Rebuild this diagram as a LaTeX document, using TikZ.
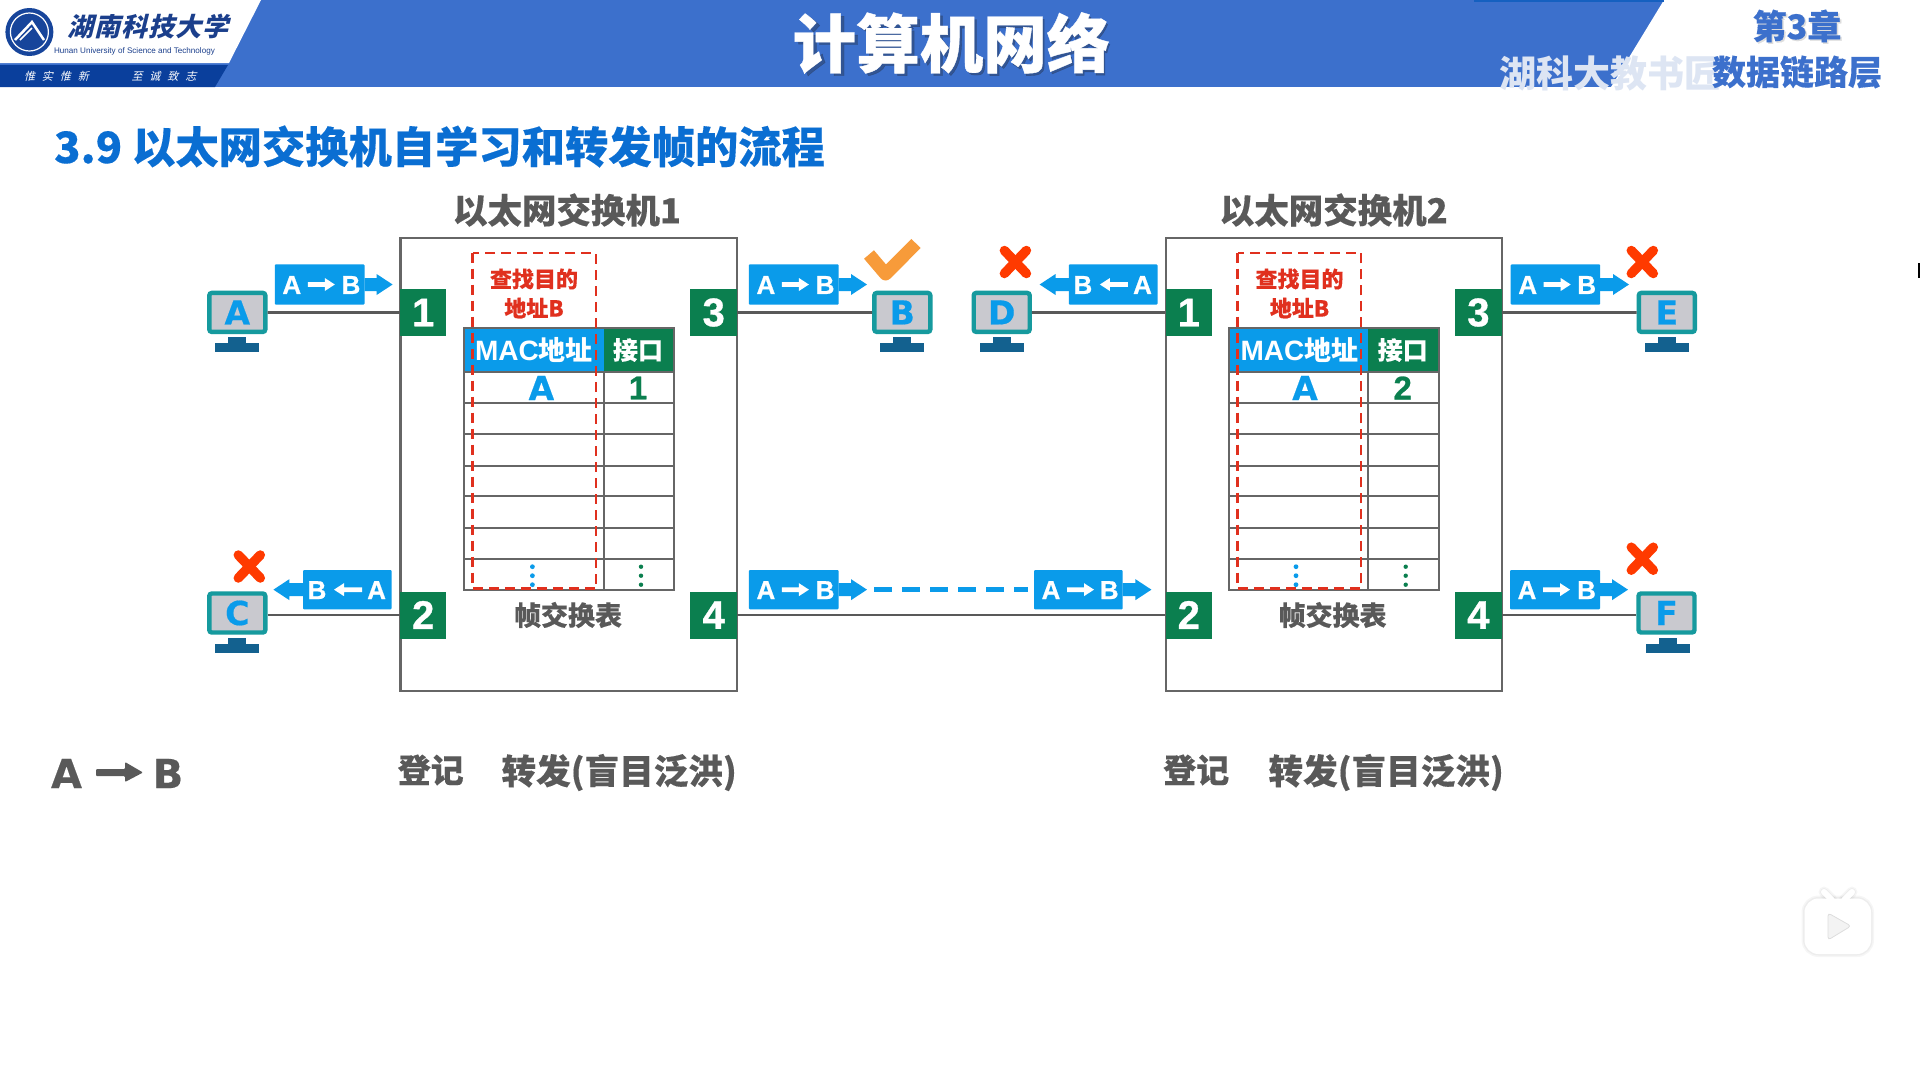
\documentclass[tikz,border=0pt]{standalone}
\usepackage{fontspec}
\setmainfont{Noto Sans CJK SC}
\newfontfamily\djb{DejaVu Sans}[BoldFeatures={FakeBold=0.5}]
\newfontfamily\libf{Liberation Sans}
\newfontfamily\libh{Liberation Sans}[BoldFeatures={FakeBold=0.8}]
\newfontfamily\heavy{Noto Sans CJK SC}[BoldFeatures={FakeBold=0.6}]
\newfontfamily\semih{Noto Sans CJK SC}[BoldFeatures={FakeBold=0.3}]
\newfontfamily\slantf{Noto Sans CJK SC}[FakeSlant=0.25]
\newcommand{\fsz}[1]{\fontsize{#1}{#1}\selectfont}
\definecolor{hblue}{HTML}{3C70CC}
\definecolor{fblue}{HTML}{0A9BEA}
\definecolor{pgreen}{HTML}{0B7F4F}
\definecolor{tgray}{HTML}{595959}
\definecolor{lgray}{HTML}{666666}
\definecolor{dred}{HTML}{E0301E}
\definecolor{xred}{HTML}{FF3A00}
\definecolor{okor}{HTML}{F79B3A}
\definecolor{teal1}{HTML}{169A9E}
\definecolor{scr}{HTML}{C9C9CF}
\definecolor{stand}{HTML}{13618F}
\definecolor{ttl}{HTML}{0A6ED2}
\definecolor{navyb}{HTML}{0A3F9C}
\definecolor{logob}{HTML}{17459B}
\definecolor{logot}{HTML}{1B3F8C}
\definecolor{wmk}{HTML}{DDE5F3}
\definecolor{shadowc}{HTML}{2A3F66}
\definecolor{topl}{HTML}{1560C0}
\definecolor{lightp}{HTML}{F3F3F3}
\definecolor{lightq}{HTML}{DDDDDD}
\tikzset{
  x=1pt,y=-1pt,
  portbox/.style={fill=pgreen,inner sep=0pt,minimum width=46.5pt,minimum height=47pt,text=white,font=\libh\bfseries\fsz{40}},
  monitorbox/.style={rectangle,rounded corners=2.5pt,fill=scr,draw=teal1,line width=4.4pt,inner sep=0pt,minimum width=56pt,minimum height=39pt,text=fblue,font=\djb\bfseries\fsz{33}},
  linkline/.style={draw=tgray,line width=2.8pt},
  swbox/.style={draw=lgray,line width=2.2pt},
  grayb/.style={text=tgray,font=\semih\bfseries\fsz{33},inner sep=0pt},
  flet/.style={text=white,font=\libh\bfseries\fsz{26},inner sep=0pt},
  tline/.style={draw=lgray,line width=2pt},
  dbox/.style={draw=dred,line width=2.4pt,dash pattern=on 10pt off 6pt},
  crossm/.style={draw=xred,line width=9.5pt,line cap=round},
}
% frame label pointing right: x0, x1, tip, ytop, ybot
\newcommand{\frameR}[5]{%
  \pgfmathsetmacro{\yc}{(#4+#5)/2}%
  \fill[fblue,rounded corners=1pt] (#1,#4) rectangle (#2,#5);
  \fill[fblue] (#2,\yc-6.5) -- (#3-16,\yc-6.5) -- (#3-16,\yc-10.5) -- (#3,\yc) -- (#3-16,\yc+10.5) -- (#3-16,\yc+6.5) -- (#2,\yc+6.5) -- cycle;
  \node[flet] at (#1+17,\yc+.5) {A};
  \node[flet] at (#2-13.5,\yc+.5) {B};
  \fill[white] (#1+33,\yc-2.4) -- (#1+50,\yc-2.4) -- (#1+50,\yc-6.5) -- (#1+60,\yc) -- (#1+50,\yc+6.5) -- (#1+50,\yc+2.4) -- (#1+33,\yc+2.4) -- cycle;
}
% frame label pointing left: x0, x1, tip, ytop, ybot
\newcommand{\frameL}[5]{%
  \pgfmathsetmacro{\yc}{(#4+#5)/2}%
  \fill[fblue,rounded corners=1pt] (#1,#4) rectangle (#2,#5);
  \fill[fblue] (#1,\yc-6.5) -- (#3+16,\yc-6.5) -- (#3+16,\yc-10.5) -- (#3,\yc) -- (#3+16,\yc+10.5) -- (#3+16,\yc+6.5) -- (#1,\yc+6.5) -- cycle;
  \node[flet] at (#1+14,\yc+.5) {B};
  \node[flet] at (#2-15,\yc+.5) {A};
  \fill[white] (#1+59,\yc-2.4) -- (#1+41,\yc-2.4) -- (#1+41,\yc-6.5) -- (#1+31,\yc) -- (#1+41,\yc+6.5) -- (#1+41,\yc+2.4) -- (#1+59,\yc+2.4) -- cycle;
}
\newcommand{\crossat}[2]{%
  \draw[crossm] (#1-11,#2-11.5) -- (#1+11,#2+11.5);
  \draw[crossm] (#1-11,#2+11.5) -- (#1+11,#2-11.5);
}
% monitor stand under monitor centre x, top y of neck
\newcommand{\standat}[2]{%
  \fill[stand] (#1-9,#2) rectangle (#1+9,#2+7);
  \fill[stand] (#1-22,#2+6) rectangle (#1+22,#2+15);
}
% table: x0 split x1 dash0 dash1 textcx portcx Acx num
\newcommand{\tableat}[9]{%
  \fill[fblue] (#1,327.7) rectangle (#2,371.7);
  \fill[pgreen] (#2,327.7) rectangle (#3,371.7);
  \draw[tline] (#1,327.7) rectangle (#3,590);
  \foreach \yy in {371.7,402.7,434.3,465.7,496,527.7,559.3} {\draw[tline] (#1,\yy) -- (#3,\yy);}
  \draw[tline] (#2,371.7) -- (#2,590);
  \node[text=white,inner sep=0pt,font=\fsz{26}] at (#6,350) {\libf\bfseries\fsz{28}MAC\normalfont\fsz{27}\bfseries 地址};
  \node[text=white,inner sep=0pt,font=\semih\bfseries\fsz{25}] at (#7,350) {接口};
  \node[text=fblue,inner sep=0pt,font=\djb\bfseries\fsz{33}] at (#8,388) {A};
  \node[text=pgreen,inner sep=0pt,font=\libh\bfseries\fsz{33}] at (#7,388) {#9};
  \foreach \yy in {566.7,575.7,584.7} {
    \fill[fblue] (#8-9,\yy) circle (2.4);
    \fill[pgreen] (#7+3,\yy) circle (2.2);
  }
  \draw[dbox] (#4,252.7) rectangle (#5,588.3);
  \node[text=dred,inner sep=0pt,font=\semih\bfseries\fsz{22}] at (#6,279) {查找目的};
  \node[text=dred,inner sep=0pt,font=\semih\bfseries\fsz{22}] at (#6,308) {地址B};
}
\begin{document}
\begin{tikzpicture}
\useasboundingbox (0,0) rectangle (1920,1080);
\fill[white] (0,0) rectangle (1920,1080);
% header
\fill[hblue] (0,0) rectangle (1920,87);
\fill[white] (0,0) -- (261,0) -- (229,63) -- (0,63) -- cycle;
\fill[navyb] (0,65) -- (228,65) -- (215,87) -- (0,87) -- cycle;
\fill[white] (1664,0) -- (1611,87) -- (1920,87) -- (1920,0) -- cycle;
\fill[topl] (1474,0) rectangle (1664,1.5);
% logo
\fill[logob] (29.4,32) circle (24);
\draw[white,line width=1.2pt] (29.4,32) circle (19);
\fill[logob] (29.4,32) circle (15);
\draw[white,line width=2.5pt] (15,40) -- (32,22) -- (44,40);
\draw[white,line width=1.5pt] (20,40) -- (32,28);
\node[text=logot,inner sep=0pt,font=\slantf\bfseries\fsz{26}] at (148,27) {湖\hspace{1pt}南\hspace{1pt}科\hspace{1pt}技\hspace{1pt}大\hspace{1pt}学};
\node[text=logot,inner sep=0pt,font=\libf\fsz{8.1}] at (134.5,51) {Hunan University of Science and Technology};
\node[text=white,inner sep=0pt,font=\slantf\fsz{11}] at (56.5,76) {惟\hspace{7pt}实\hspace{7pt}惟\hspace{7pt}新};
\node[text=white,inner sep=0pt,font=\slantf\fsz{11}] at (164,76) {至\hspace{7pt}诚\hspace{7pt}致\hspace{7pt}志};
% title
\node[text=shadowc,opacity=.55,inner sep=0pt,font=\heavy\bfseries\fsz{63}] at (954,45.5) {计算机网络};
\node[text=white,inner sep=0pt,font=\heavy\bfseries\fsz{63.5}] at (951.5,43) {计算机网络};
\node[text=wmk,inner sep=0pt,anchor=west,font=\bfseries\fsz{37}] at (1499,74) {湖科大教书匠};
\node[text=lightq,inner sep=0pt,font=\semih\bfseries\fsz{34}] at (1798.5,27.5) {第3章};
\node[text=hblue,inner sep=0pt,font=\semih\bfseries\fsz{34}] at (1797,26) {第3章};
\node[text=hblue,inner sep=0pt,font=\semih\bfseries\fsz{34}] at (1797,72) {数据链路层};
\node[text=ttl,inner sep=0pt,anchor=west,font=\semih\bfseries\fsz{43.3}] at (54,146.5) {3.9 以太网交换机自学习和转发帧的流程};
% switch titles
\node[grayb,font=\semih\bfseries\fsz{34.5}] at (567,210) {以太网交换机1};
\node[grayb,font=\semih\bfseries\fsz{34.5}] at (1333.7,210) {以太网交换机2};
% switch boxes
\draw[swbox] (400.4,238.3) rectangle (736.8,691);
\draw[swbox] (1165.9,238.3) rectangle (1501.7,691);
% tables
\tableat{463.9}{603.5}{673.8}{472.6}{596.2}{534}{638}{541.4}{1}
\tableat{1229}{1368.4}{1438.5}{1237.6}{1361}{1299.5}{1402.7}{1305}{2}
\node[grayb,font=\semih\bfseries\fsz{27}] (tbl1) at (568,615) {帧交换表};
\node[grayb,font=\semih\bfseries\fsz{27}] (tbl2) at (1332.6,615) {帧交换表};
% ports
\node[portbox] (s1p1) at (423.2,312.5) {1};
\node[portbox] (s1p2) at (423.2,615) {2};
\node[portbox] (s1p3) at (713.7,312.5) {3};
\node[portbox] (s1p4) at (713.7,615) {4};
\node[portbox] (s2p1) at (1188.8,312.5) {1};
\node[portbox] (s2p2) at (1188.8,615) {2};
\node[portbox] (s2p3) at (1478.4,312.5) {3};
\node[portbox] (s2p4) at (1478.4,615) {4};
% monitors
\node[monitorbox] (mA) at (237.3,312.4) {A};
\node[monitorbox] (mB) at (902.3,312.4) {B};
\node[monitorbox] (mC) at (237.3,613) {C};
\node[monitorbox] (mD) at (1001.7,312.4) {D};
\node[monitorbox] (mE) at (1666.8,312.4) {E};
\node[monitorbox] (mF) at (1666.5,613) {F};
\standat{237}{337}\standat{902.3}{337}\standat{237}{638}
\standat{1001.7}{337}\standat{1666.8}{337}\standat{1668}{638}
% links
\draw[linkline] (mA.east) -- (s1p1.west);
\draw[linkline] (s1p3.east) -- (mB.west);
\draw[linkline] (mC.east |- s1p2.west) -- (s1p2.west);
\draw[linkline] (s1p4.east) -- (s2p2.west);
\draw[linkline] (mD.east) -- (s2p1.west);
\draw[linkline] (s2p3.east) -- (mE.west);
\draw[linkline] (s2p4.east) -- (mF.west |- s2p4.east);
% frame labels
\frameR{274.8}{364.5}{392.6}{264.3}{304.7}
\frameR{748.9}{838.6}{867}{264.3}{304.7}
\frameL{303}{391.6}{273.4}{570}{609.3}
\frameR{748.9}{838.6}{867}{570}{609.3}
\frameL{1068.9}{1157.5}{1039.6}{264.3}{304.7}
\frameR{1510.7}{1600.2}{1629}{264.3}{304.7}
\frameR{1034}{1122.7}{1151.4}{570}{609.3}
\frameR{1510}{1600}{1628}{570}{609.3}
\coordinate (dash0) at (874,589);
\coordinate (dash1) at (1028,589);
\draw[fblue,line width=5pt,dash pattern=on 18pt off 10pt] (dash0) -- (dash1);
% marks
\draw[okor,line width=13pt,line join=round] (869,254.5) -- (885.6,274) -- (916,243.5);
\crossat{249.3}{566.5}
\crossat{1015.4}{262}
\crossat{1642.3}{262}
\crossat{1642.3}{558.7}
% bottom text
\node[grayb,anchor=west] at (397.5,770) {登记};
\node[grayb,anchor=east,font=\semih\bfseries\fsz{34.6}] at (737,772.5) {转发(盲目泛洪)};
\node[grayb,anchor=west] at (1163,770) {登记};
\node[grayb,anchor=east,font=\semih\bfseries\fsz{34.6}] at (1504,772.5) {转发(盲目泛洪)};
\node[text=tgray,inner sep=0pt,font=\djb\bfseries\fsz{40}] at (66.5,773.5) {A};
\node[text=tgray,inner sep=0pt,font=\djb\bfseries\fsz{40}] at (168,773.5) {B};
\fill[tgray,rounded corners=1pt] (96,769) -- (125,769) -- (125,762) -- (143,772.5) -- (125,782) -- (125,776) -- (96,776) -- cycle;
% play button
\foreach \w in {6,3} {
  \draw[black,opacity=.035,line width=\w pt,rounded corners=14pt] (1804.5,898.5) rectangle (1871,954);
  \draw[black,opacity=.035,line width=\w pt+5pt,line cap=round] (1824,892) -- (1832,900);
  \draw[black,opacity=.035,line width=\w pt+5pt,line cap=round] (1852,892) -- (1844,900);
}
\fill[white,rounded corners=14pt] (1804.5,898.5) rectangle (1871,954);
\draw[white,line width=6pt,line cap=round] (1824,892) -- (1832,900);
\draw[white,line width=6pt,line cap=round] (1852,892) -- (1844,900);
\draw[lightq,fill=lightp,line width=.8pt,rounded corners=3pt] (1828,913) -- (1851,926) -- (1828,940) -- cycle;
\fill[black] (1918.3,263) rectangle (1920,278);
\end{tikzpicture}
\end{document}
